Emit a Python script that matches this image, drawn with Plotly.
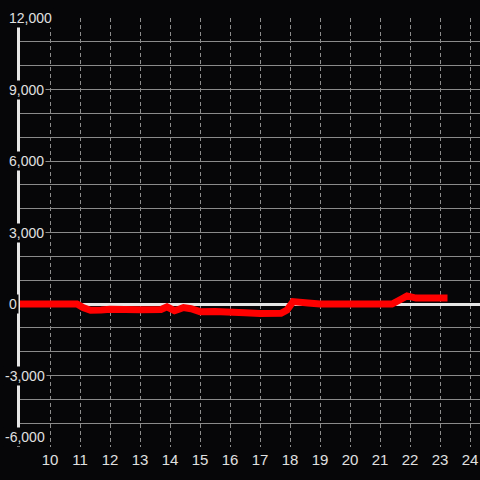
import plotly.graph_objects as go

# time of day (hours) and running value
hours = [9.0, 10.9, 11.1, 11.35, 11.7, 12.0, 13.0, 13.7, 13.9, 14.15, 14.3, 14.45,
         14.7, 15.0, 15.5, 16.0, 16.5, 17.0, 17.4, 17.7, 17.9, 18.1, 18.6, 19.0,
         20.0, 21.0, 21.4, 21.7, 21.9, 22.2, 22.6, 23.25]
values = [0, 0, -150, -260, -250, -220, -240, -230, -120, -280, -220, -150,
          -200, -320, -310, -370, -370, -400, -400, -390, -250, 100, 40, 0,
          0, 0, 0, 200, 340, 250, 250, 250]

x_ticks = list(range(10, 25))
y_label_vals = [-6000, -3000, 0, 3000, 6000, 9000, 12000]

BG = "#060608"
TXT = "#e0e0e0"
FONT = "Liberation Sans, Arial, sans-serif"

fig = go.Figure()
fig.add_trace(go.Scatter(x=hours, y=values, mode="lines",
                         line=dict(color="#ff0000", width=7), showlegend=False))

# y labels sit on black boxes over the grid and axis line
for v in y_label_vals:
    fig.add_annotation(
        x=0, xref="paper", y=v, yref="y",
        text=f"{v:,}", showarrow=False,
        xanchor="left", yanchor="bottom" if v == y_label_vals[0] else "middle",
        xshift=-17 if v < 0 else -13,
        bgcolor=BG, borderpad=1,
        font=dict(family=FONT, size=14, color=TXT),
    )

fig.update_layout(
    width=480, height=480,
    margin=dict(l=20, r=0, t=18, b=33),
    paper_bgcolor=BG, plot_bgcolor=BG,
    font=dict(family=FONT, size=14, color=TXT),
    xaxis=dict(range=[9.0, 24.333], tickvals=x_ticks, showgrid=True,
               gridcolor="#8c8c8c", gridwidth=1, griddash="4px,3px",
               zeroline=False, showline=False, ticks="", ticklabelstandoff=2,
               tickfont=dict(family=FONT, size=15, color=TXT)),
    yaxis=dict(range=[-6000, 12000], dtick=1000, showticklabels=False,
               showgrid=True, gridcolor="#8a8a8a", gridwidth=1,
               zeroline=True, zerolinecolor="#e6e6e6", zerolinewidth=3,
               showline=True, linecolor="#e6e6e6", linewidth=3, ticks="",
               layer="below traces"),
)

fig.write_html("out.html", config={"displayModeBar": False},
               post_script="document.body.style.margin='0';"
                           "document.body.style.background='#060608';")
